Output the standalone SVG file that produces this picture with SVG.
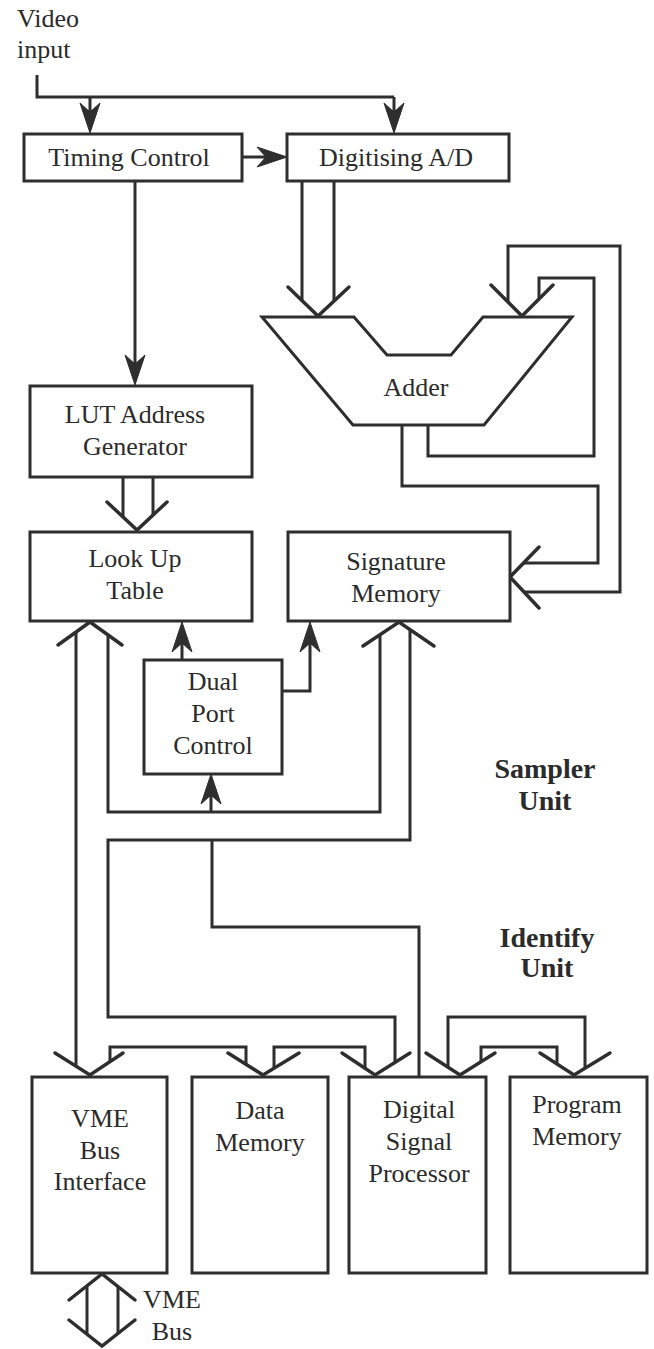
<svg xmlns="http://www.w3.org/2000/svg" xmlns:xlink="http://www.w3.org/1999/xlink" width="654" height="1349" viewBox="0 0 654 1349">
  <style>
    .box { fill: #ffffff; stroke: #2e2e2e; stroke-width: 3; }
    .wire { fill: none; stroke: #2e2e2e; stroke-width: 3; stroke-linejoin: miter; }
    .chev { fill: none; stroke: #2e2e2e; stroke-width: 3.5; stroke-linejoin: miter; stroke-linecap: round; }
    .head { fill: #2e2e2e; stroke: #2e2e2e; stroke-width: 1; stroke-linejoin: round; }
    .lbl { font-family: "Liberation Serif", "Times New Roman", serif; font-size: 26px; fill: #2b2b2b; text-anchor: middle; }
    .unit { font-family: "Liberation Serif", "Times New Roman", serif; font-size: 28px; font-weight: bold; fill: #2b2b2b; text-anchor: middle; }
  </style>
  <defs>
    <!-- solid barbed arrowhead, pointing down, tip at the origin -->
    <path id="ah" class="head" d="M0,0 L-10,-30 L0,-21 L10,-30 Z"/>
  </defs>

  <rect x="0" y="0" width="654" height="1349" fill="#ffffff"/>

  <!-- connectors -->
  <g id="connectors">
    <!-- video input feed -->
    <path class="wire" d="M37,75 V97 H394 M90,97 V125 M394,97 V125"/>
    <use xlink:href="#ah" transform="translate(90,133)"/>
    <use xlink:href="#ah" transform="translate(394,133)"/>
    <!-- timing control to digitiser and to LUT address generator -->
    <path class="wire" d="M242,157 H280"/>
    <use xlink:href="#ah" transform="translate(287,157) rotate(-90)"/>
    <path class="wire" d="M135,181 V378"/>
    <use xlink:href="#ah" transform="translate(135,385)"/>

    <!-- digitiser bus into adder -->
    <path class="wire" d="M302,181 V300.5 M334,181 V301"/>
    <path class="chev" d="M288,287 L318,316 L349,287"/>
    <!-- second adder input -->
    <path class="chev" d="M491,285 L522,316 L553,285"/>
    <path class="wire" d="M508,302 V246 H620 V592 H524"/>
    <path class="wire" d="M539,299 V278 H594 V456 H428 V425"/>
    <path class="wire" d="M402,425 V486 H598 V563 H523.5"/>
    <path class="chev" d="M539,547 L510,577 L539,608"/>

    <!-- LUT address bus -->
    <path class="wire" d="M123,477 V517 M153,477 V515"/>
    <path class="chev" d="M107,502 L137,530 L167,502"/>

    <!-- dual port control lines -->
    <path class="wire" d="M182,660 V630"/>
    <use xlink:href="#ah" transform="translate(182,622) rotate(180)"/>
    <path class="wire" d="M282,691 H310 V630"/>
    <use xlink:href="#ah" transform="translate(310,622) rotate(180)"/>
    <path class="wire" d="M211,812 V782"/>
    <use xlink:href="#ah" transform="translate(211,774) rotate(180)"/>

    <!-- memory buses from the sampler unit -->
    <path class="chev" d="M58,645 L90,622 L122,645"/>
    <path class="chev" d="M363,646 L399,622 L434,646"/>
    <path class="wire" d="M76,632 V1066"/>
    <path class="wire" d="M108,635 V812 H380 V635"/>
    <path class="wire" d="M410,630 V840 H108 V1017 H395 V1062"/>
    <path class="wire" d="M212,840 V927 H419 V1077"/>

    <!-- identify unit buses -->
    <path class="wire" d="M110,1062 V1047 H246 V1064"/>
    <path class="wire" d="M274,1068 V1047 H365 V1068"/>
    <path class="wire" d="M481,1062 V1047 H557 V1064"/>
    <path class="wire" d="M448,1067 V1017 H585 V1068"/>
    <path class="chev" d="M55,1053 L90,1075 L123,1053"/>
    <path class="chev" d="M228,1053 L263,1075 L299,1053"/>
    <path class="chev" d="M342,1053 L375,1075 L410,1053"/>
    <path class="chev" d="M426,1053 L460,1075 L495,1053"/>
    <path class="chev" d="M540,1053 L574,1075 L610,1053"/>

    <!-- external VME bus -->
    <path class="chev" d="M69,1300 L102,1274 L135,1300"/>
    <path class="chev" d="M69,1320 L102,1346 L135,1320"/>
    <path class="wire" d="M87,1286 V1334 M118,1287 V1334"/>
  </g>

  <!-- nodes -->
  <g id="video-input">
    <text class="lbl" x="17" y="27" font-size="25" style="text-anchor:start">Video</text>
    <text class="lbl" x="17" y="58" font-size="25" style="text-anchor:start">input</text>
  </g>
  <g id="timing-control">
    <rect class="box" x="24" y="134" width="218" height="47"/>
    <text class="lbl" x="129" y="166">Timing Control</text>
  </g>
  <g id="digitising-ad">
    <rect class="box" x="287" y="134" width="222" height="47"/>
    <text class="lbl" x="396" y="166">Digitising A/D</text>
  </g>
  <g id="adder">
    <polygon class="box" points="262,317 354,317 387,355 451,355 483,317 572,317 484,425 353,425"/>
    <text class="lbl" x="416" y="396">Adder</text>
  </g>
  <g id="lut-address-generator">
    <rect class="box" x="30" y="386" width="222" height="91"/>
    <text class="lbl" x="135" y="423">LUT Address</text>
    <text class="lbl" x="135" y="455">Generator</text>
  </g>
  <g id="look-up-table">
    <rect class="box" x="30" y="532" width="222" height="89"/>
    <text class="lbl" x="135" y="567">Look Up</text>
    <text class="lbl" x="135" y="599">Table</text>
  </g>
  <g id="signature-memory">
    <rect class="box" x="288" y="532" width="222" height="89"/>
    <text class="lbl" x="396" y="570">Signature</text>
    <text class="lbl" x="396" y="602">Memory</text>
  </g>
  <g id="dual-port-control">
    <rect class="box" x="144" y="660" width="138" height="114"/>
    <text class="lbl" x="213" y="690">Dual</text>
    <text class="lbl" x="213" y="722">Port</text>
    <text class="lbl" x="213" y="754">Control</text>
  </g>
  <g id="sampler-unit">
    <text class="unit" x="545" y="778">Sampler</text>
    <text class="unit" x="545" y="810">Unit</text>
  </g>
  <g id="identify-unit">
    <text class="unit" x="547" y="947">Identify</text>
    <text class="unit" x="547" y="977">Unit</text>
  </g>
  <g id="vme-bus-interface">
    <rect class="box" x="32" y="1077" width="135" height="196"/>
    <text class="lbl" x="100" y="1127">VME</text>
    <text class="lbl" x="100" y="1159">Bus</text>
    <text class="lbl" x="100" y="1190">Interface</text>
  </g>
  <g id="data-memory">
    <rect class="box" x="192" y="1077" width="136" height="196"/>
    <text class="lbl" x="260" y="1119">Data</text>
    <text class="lbl" x="260" y="1151">Memory</text>
  </g>
  <g id="digital-signal-processor">
    <rect class="box" x="349" y="1077" width="137" height="196"/>
    <text class="lbl" x="419" y="1118">Digital</text>
    <text class="lbl" x="419" y="1150">Signal</text>
    <text class="lbl" x="419" y="1182">Processor</text>
  </g>
  <g id="program-memory">
    <rect class="box" x="510" y="1077" width="137" height="196"/>
    <text class="lbl" x="577" y="1113">Program</text>
    <text class="lbl" x="577" y="1145">Memory</text>
  </g>
  <g id="vme-bus">
    <text class="lbl" x="172" y="1308">VME</text>
    <text class="lbl" x="172" y="1340">Bus</text>
  </g>
</svg>
